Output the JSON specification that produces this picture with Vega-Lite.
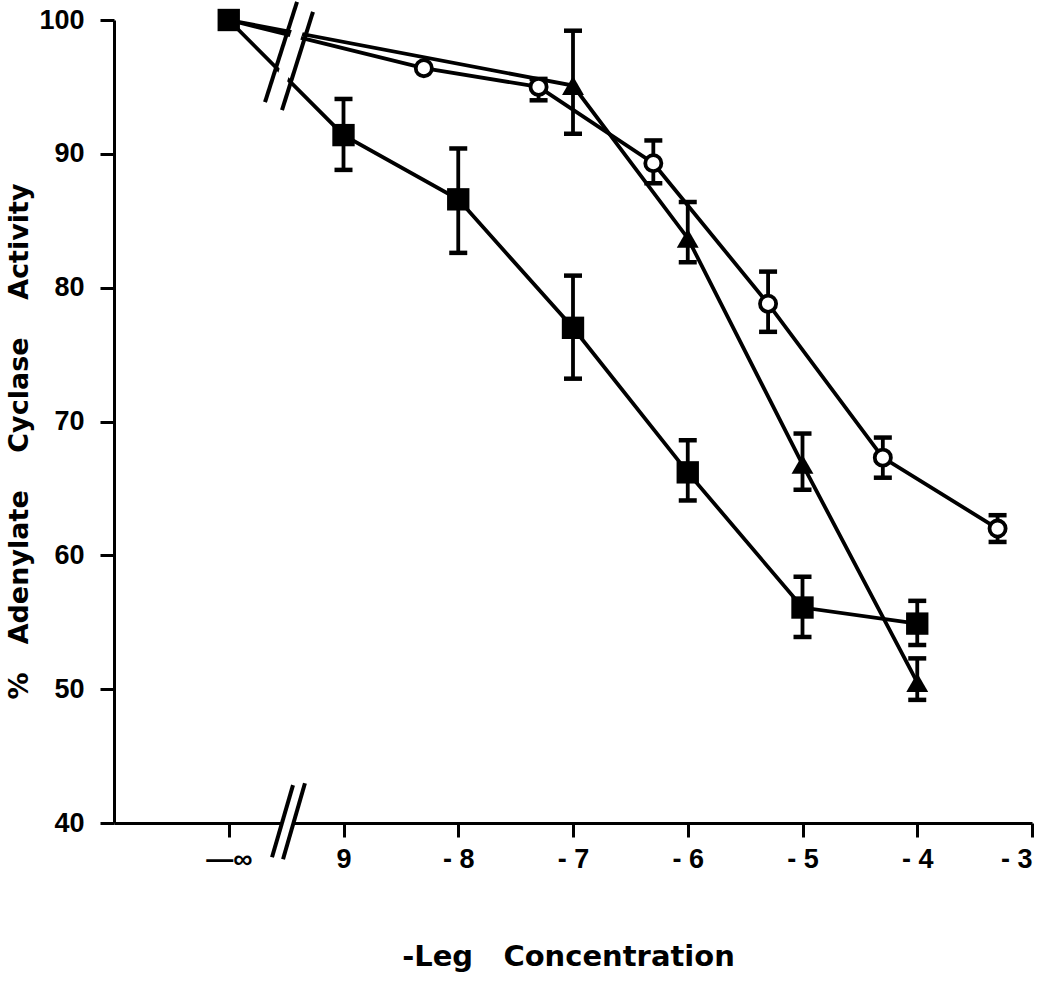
{
  "$schema": "https://vega.github.io/schema/vega-lite/v6.json",
  "width": 918,
  "height": 803,
  "autosize": {"type": "none"},
  "padding": {"left": 114, "top": 20, "right": 18, "bottom": 160},
  "background": "white",
  "config": {
    "view": {"stroke": null},
    "axis": {
      "grid": false,
      "domainColor": "black",
      "domainWidth": 3,
      "tickColor": "black",
      "tickWidth": 3,
      "labelColor": "black",
      "labelFont": "Liberation Sans",
      "labelFontWeight": "bold",
      "titleColor": "black",
      "titleFont": "DejaVu Sans",
      "titleFontWeight": "bold"
    }
  },
  "datasets": {
    "pts": [
      {"series": "square", "x": -10, "y": 100, "lo": null, "hi": null},
      {"series": "square", "x": -9, "y": 91.4, "lo": 88.8, "hi": 94.1},
      {"series": "square", "x": -8, "y": 86.6, "lo": 82.6, "hi": 90.4},
      {"series": "square", "x": -7, "y": 77.0, "lo": 73.2, "hi": 80.9},
      {"series": "square", "x": -6, "y": 66.2, "lo": 64.1, "hi": 68.6},
      {"series": "square", "x": -5, "y": 56.1, "lo": 53.9, "hi": 58.4},
      {"series": "square", "x": -4, "y": 54.9, "lo": 53.3, "hi": 56.6},
      {"series": "circle", "x": -10, "y": 100, "lo": null, "hi": null},
      {"series": "circle", "x": -8.3, "y": 96.4, "lo": null, "hi": null},
      {"series": "circle", "x": -7.3, "y": 95.0, "lo": 94.0, "hi": 95.6},
      {"series": "circle", "x": -6.3, "y": 89.3, "lo": 87.8, "hi": 91.0},
      {"series": "circle", "x": -5.3, "y": 78.8, "lo": 76.7, "hi": 81.2},
      {"series": "circle", "x": -4.3, "y": 67.3, "lo": 65.8, "hi": 68.8},
      {"series": "circle", "x": -3.3, "y": 62.0, "lo": 61.0, "hi": 63.0},
      {"series": "triangle", "x": -10, "y": 100, "lo": null, "hi": null},
      {"series": "triangle", "x": -7, "y": 95.1, "lo": 91.5, "hi": 99.2},
      {"series": "triangle", "x": -6, "y": 83.7, "lo": 81.9, "hi": 86.4},
      {"series": "triangle", "x": -5, "y": 66.8, "lo": 64.9, "hi": 69.1},
      {"series": "triangle", "x": -4, "y": 50.5, "lo": 49.2, "hi": 52.3}
    ],
    "breaks": [
      {"part": "gap", "x": -9.336, "y": 100.97, "x2": -9.61, "y2": 93.57},
      {"part": "gap", "x": -9.388, "y": 42.9, "x2": -9.575, "y2": 37.37},
      {"part": "slash", "x": -9.405, "y": 101.35, "x2": -9.684, "y2": 93.87},
      {"part": "slash", "x": -9.266, "y": 100.6, "x2": -9.536, "y2": 93.27},
      {"part": "slash", "x": -9.44, "y": 42.83, "x2": -9.623, "y2": 37.44},
      {"part": "slash", "x": -9.336, "y": 42.97, "x2": -9.527, "y2": 37.29}
    ]
  },
  "layer": [
    {
      "data": {"name": "pts"},
      "mark": {"type": "line", "color": "black", "strokeWidth": 3.8},
      "encoding": {
        "x": {
          "field": "x", "type": "quantitative",
          "scale": {"domain": [-11, -3], "nice": false, "zero": false},
          "axis": {
            "values": [-10, -9, -8, -7, -6, -5, -4, -3],
            "labelExpr": "datum.value == -10 ? '—∞' : (datum.value == -9 ? '9' : '- ' + abs(datum.value))",
            "tickSize": 14,
            "labelPadding": 9,
            "labelFontSize": 27,
            "title": "-Leg\u00a0\u00a0\u00a0Concentration",
            "titleFontSize": 29,
            "titleX": 454,
            "titleY": 142,
            "titleAlign": "center",
            "titleBaseline": "alphabetic",
            "titleAnchor": null
          }
        },
        "y": {
          "field": "y", "type": "quantitative",
          "scale": {"domain": [40, 100], "nice": false, "zero": false},
          "axis": {
            "values": [40, 50, 60, 70, 80, 90, 100],
            "tickSize": 14,
            "labelPadding": 16,
            "labelFontSize": 27,
            "title": "%\u00a0\u00a0\u00a0Adenylate\u00a0\u00a0\u00a0\u00a0Cyclase\u00a0\u00a0\u00a0\u00a0Activity",
            "titleFontSize": 27,
            "titleAngle": -90,
            "titleX": -87,
            "titleY": 421,
            "titleAlign": "center",
            "titleBaseline": "alphabetic"
          }
        },
        "detail": {"field": "series"}
      }
    },
    {
      "data": {"name": "pts"},
      "transform": [{"filter": "datum.lo != null"}],
      "mark": {"type": "rule", "color": "black", "strokeWidth": 3.8, "opacity": 1},
      "encoding": {
        "x": {"field": "x", "type": "quantitative"},
        "y": {"field": "lo", "type": "quantitative"},
        "y2": {"field": "hi"}
      }
    },
    {
      "data": {"name": "pts"},
      "transform": [{"filter": "datum.lo != null"}],
      "mark": {"type": "tick", "color": "black", "opacity": 1, "orient": "horizontal", "size": 18, "thickness": 4.5},
      "encoding": {
        "x": {"field": "x", "type": "quantitative"},
        "y": {"field": "lo", "type": "quantitative"}
      }
    },
    {
      "data": {"name": "pts"},
      "transform": [{"filter": "datum.lo != null"}],
      "mark": {"type": "tick", "color": "black", "opacity": 1, "orient": "horizontal", "size": 18, "thickness": 4.5},
      "encoding": {
        "x": {"field": "x", "type": "quantitative"},
        "y": {"field": "hi", "type": "quantitative"}
      }
    },
    {
      "data": {"name": "pts"},
      "transform": [{"filter": "datum.series == 'circle' && datum.x > -10"}],
      "mark": {"type": "point", "shape": "circle", "filled": false, "fill": "white", "fillOpacity": 1, "stroke": "black", "strokeWidth": 3.8, "size": 260, "opacity": 1},
      "encoding": {
        "x": {"field": "x", "type": "quantitative"},
        "y": {"field": "y", "type": "quantitative"}
      }
    },
    {
      "data": {"name": "pts"},
      "transform": [{"filter": "datum.series == 'triangle' && datum.x > -10"}],
      "mark": {"type": "point", "shape": "triangle-up", "filled": true, "color": "black", "size": 480, "opacity": 1},
      "encoding": {
        "x": {"field": "x", "type": "quantitative"},
        "y": {"field": "y", "type": "quantitative"}
      }
    },
    {
      "data": {"name": "pts"},
      "transform": [{"filter": "datum.series == 'square'"}],
      "mark": {"type": "point", "shape": "square", "filled": true, "color": "black", "size": 500, "opacity": 1},
      "encoding": {
        "x": {"field": "x", "type": "quantitative"},
        "y": {"field": "y", "type": "quantitative"}
      }
    },
    {
      "data": {"name": "breaks"},
      "transform": [{"filter": "datum.part == 'gap'"}],
      "mark": {"type": "rule", "color": "white", "strokeWidth": 11},
      "encoding": {
        "x": {"field": "x", "type": "quantitative"},
        "y": {"field": "y", "type": "quantitative"},
        "x2": {"field": "x2"},
        "y2": {"field": "y2"}
      }
    },
    {
      "data": {"name": "breaks"},
      "transform": [{"filter": "datum.part == 'slash'"}],
      "mark": {"type": "rule", "color": "black", "strokeWidth": 4},
      "encoding": {
        "x": {"field": "x", "type": "quantitative"},
        "y": {"field": "y", "type": "quantitative"},
        "x2": {"field": "x2"},
        "y2": {"field": "y2"}
      }
    }
  ]
}
